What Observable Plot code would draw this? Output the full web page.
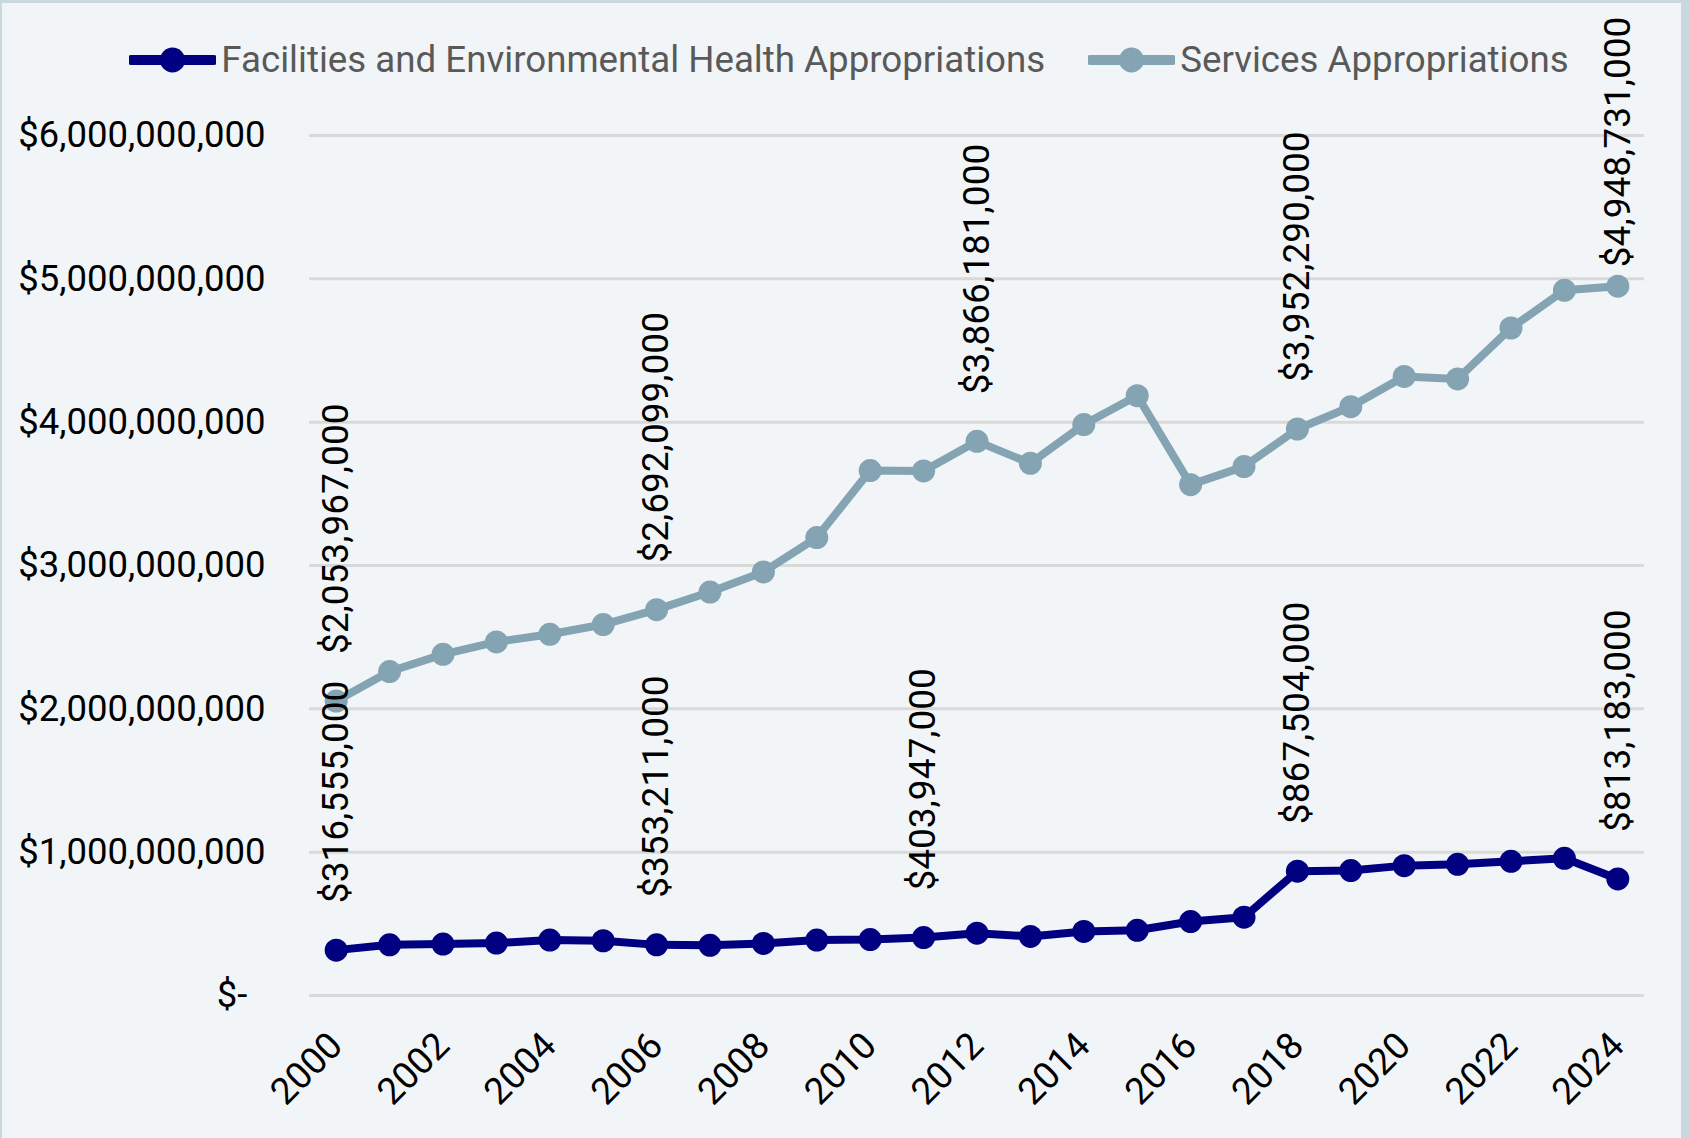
<!DOCTYPE html>
<html>
<head>
<meta charset="utf-8">
<script src="https://cdn.jsdelivr.net/npm/d3@7"></script>
<script src="https://cdn.jsdelivr.net/npm/@observablehq/plot@0.6"></script>
<style>
  html, body { margin: 0; padding: 0; background: #f2f5f7; }
  #wrap { position: relative; width: 1690px; height: 1138px; overflow: hidden; background: #f2f5f7; }
  #legend {
    position: absolute; left: 0; top: 36px; width: 1690px; height: 48px;
    display: flex; justify-content: center; align-items: center; gap: 43px;
    font-family: Roboto, "Liberation Sans", sans-serif; font-size: 36.7px; color: #595959;
    line-height: 48px; z-index: 2; padding-left: 8px; box-sizing: border-box;
  }
  .item { display: flex; align-items: center; white-space: nowrap; }
  .item svg { margin-right: 5px; display: block; }
  #frame { position: absolute; inset: 0; pointer-events: none; z-index: 3;
    box-shadow: inset 2px 3px 0 #c9d7df, inset -9px 0 0 #c9d7df; }
  #chart { position: absolute; left: 0; top: 0; }
</style>
</head>
<body>
<div id="wrap">
  <div id="chart"></div>
  <div id="legend"></div>
  <div id="frame"></div>
</div>
<script>
// ---- data ----
const years = [2000, 2001, 2002, 2003, 2004, 2005, 2006, 2007, 2008, 2009, 2010, 2011, 2012,
               2013, 2014, 2015, 2016, 2017, 2018, 2019, 2020, 2021, 2022, 2023, 2024];
const facilities = [316555000, 354000000, 359000000, 366000000, 387000000, 382000000, 353211000,
                    350000000, 363000000, 387000000, 390000000, 403947000, 435000000, 412000000,
                    447000000, 455000000, 516000000, 546000000, 867504000, 872000000, 906000000,
                    915000000, 936000000, 957000000, 813183000];
const services = [2053967000, 2260000000, 2380000000, 2467000000, 2520000000, 2588000000, 2692099000,
                  2815000000, 2955000000, 3195000000, 3662000000, 3660000000, 3866181000, 3713000000,
                  3983000000, 4185000000, 3564000000, 3690000000, 3952290000, 4108000000, 4319000000,
                  4302000000, 4657000000, 4920000000, 4948731000];
const seriesNames = ["Facilities and Environmental Health Appropriations", "Services Appropriations"];
const seriesColors = ["#000080", "#84a3b3"];
const facilitiesLabelYears = [2000, 2006, 2011, 2018, 2024];
const servicesLabelYears = [2000, 2006, 2012, 2018, 2024];
const yTicks = [0, 1000000000, 2000000000, 3000000000, 4000000000, 5000000000, 6000000000];
const yTickLabels = ["$-\u00a0\u00a0", "$1,000,000,000", "$2,000,000,000", "$3,000,000,000",
                     "$4,000,000,000", "$5,000,000,000", "$6,000,000,000"];
const xTicks = [2000, 2002, 2004, 2006, 2008, 2010, 2012, 2014, 2016, 2018, 2020, 2022, 2024];

// ---- build table ----
const data = [];
years.forEach((yr, i) => {
  data.push({year: yr, value: facilities[i], series: seriesNames[0]});
  data.push({year: yr, value: services[i], series: seriesNames[1]});
});
const labels = data.filter(d =>
  (d.series === seriesNames[0] ? facilitiesLabelYears : servicesLabelYears).includes(d.year));
// the last Services label sits closer to its point so it fits inside the chart
const isTopLabel = d => d.series === seriesNames[1] && d.year === years[years.length - 1];
const fmt = d3.format("$,");

const labelStyle = {x: "year", y: "value", text: d => fmt(d.value), rotate: -90,
                    textAnchor: "start", lineAnchor: "middle", fontSize: 37, fill: "black"};

const chart = Plot.plot({
  width: 1690,
  height: 1138,
  marginLeft: 309,
  marginRight: 46,
  marginTop: 135,
  marginBottom: 143,
  style: {background: "transparent", fontFamily: "Roboto, 'Liberation Sans', sans-serif", overflow: "visible"},
  x: {domain: [1999.5, 2024.5]},
  y: {domain: [0, 6000000000]},
  color: {domain: seriesNames, range: seriesColors},
  marks: [
    Plot.ruleY(yTicks, {stroke: "#d9d9d9", strokeWidth: 3}),
    Plot.axisY({ticks: yTicks, tickFormat: d => yTickLabels[yTicks.indexOf(d)], tickSize: 0,
                tickPadding: 44, fontSize: 36.5, fill: "black", textStroke: "none", label: null}),
    Plot.axisX({ticks: xTicks, tickFormat: d => String(d), tickRotate: -45, tickSize: 0,
                tickPadding: 44, fontSize: 37, fill: "black", textStroke: "none",
                textAnchor: "end", lineAnchor: "middle", label: null}),
    Plot.line(data, {x: "year", y: "value", stroke: "series", strokeWidth: 8}),
    Plot.dot(data, {x: "year", y: "value", fill: "series", r: 11.5}),
    Plot.text(labels.filter(d => !isTopLabel(d)), {...labelStyle, dy: -47}),
    Plot.text(labels.filter(isTopLabel), {...labelStyle, dy: -19})
  ]
});
document.getElementById("chart").appendChild(chart);

// ---- legend ----
const legend = document.getElementById("legend");
seriesNames.forEach((name, i) => {
  const item = document.createElement("div");
  item.className = "item";
  item.innerHTML = `<svg width="87" height="28" viewBox="0 0 87 28">
      <line x1="2" y1="14" x2="85" y2="14" stroke="${seriesColors[i]}" stroke-width="10" stroke-linecap="round"/>
      <circle cx="43.5" cy="14" r="12.5" fill="${seriesColors[i]}"/></svg><span>${name}</span>`;
  legend.appendChild(item);
});
</script>
</body>
</html>
